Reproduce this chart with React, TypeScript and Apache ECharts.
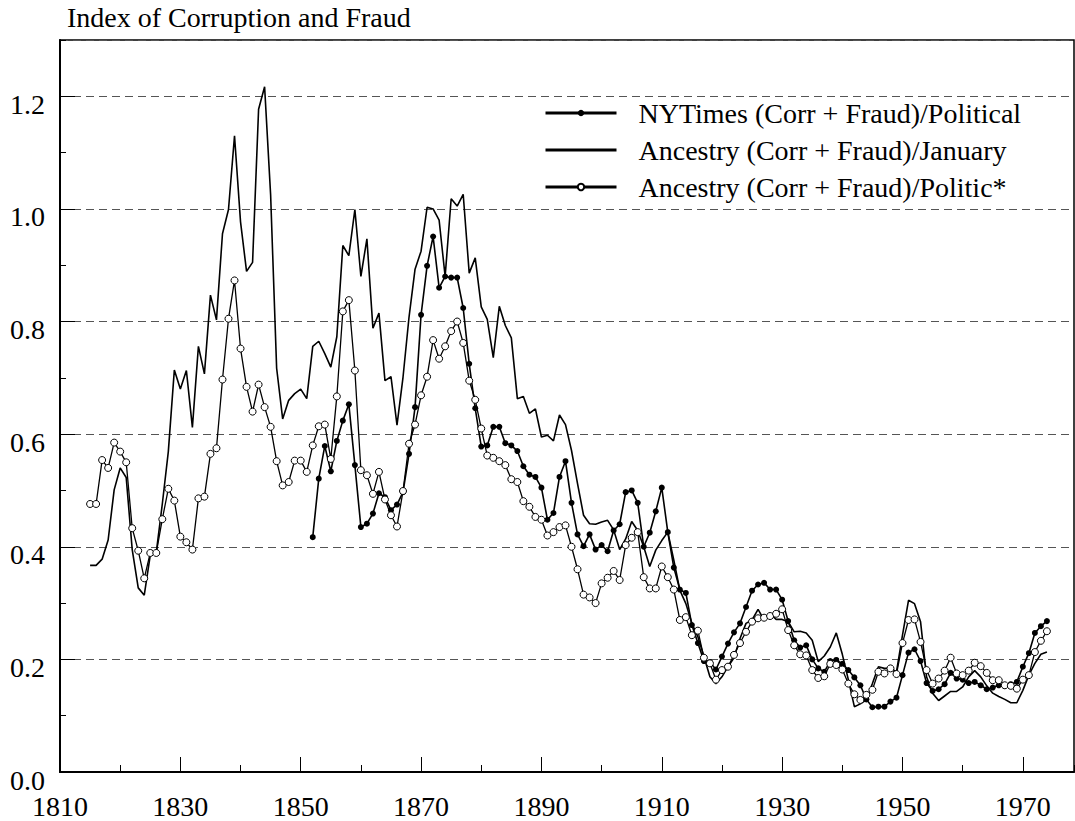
import React, { useEffect, useRef } from "react";
import * as echarts from "echarts";

const firstYear = 1815;
const nytFirstYear = 1852;

const janValues = [
  0.367, 0.367, 0.378, 0.412, 0.501, 0.540, 0.523, 0.395, 0.327, 0.314,
  0.385, 0.390, 0.476, 0.569, 0.714, 0.680, 0.713, 0.612, 0.756, 0.707,
  0.847, 0.803, 0.956, 0.999, 1.130, 0.977, 0.889, 0.905, 1.177, 1.217,
  1.025, 0.717, 0.627, 0.660, 0.672, 0.680, 0.663, 0.756, 0.765, 0.743,
  0.719, 0.773, 0.935, 0.917, 0.999, 0.880, 0.947, 0.788, 0.815, 0.695,
  0.702, 0.616, 0.701, 0.808, 0.893, 0.925, 1.003, 1.000, 0.980, 0.880,
  1.018, 1.005, 1.026, 0.886, 0.913, 0.826, 0.804, 0.736, 0.827, 0.793,
  0.771, 0.663, 0.667, 0.637, 0.645, 0.595, 0.598, 0.588, 0.634, 0.617,
  0.571, 0.512, 0.456, 0.441, 0.440, 0.444, 0.447, 0.430, 0.395, 0.414,
  0.445, 0.429, 0.400, 0.365, 0.394, 0.411, 0.426, 0.376, 0.323, 0.299,
  0.264, 0.240, 0.205, 0.169, 0.157, 0.169, 0.187, 0.203, 0.237, 0.264,
  0.270, 0.289, 0.270, 0.281, 0.271, 0.271, 0.267, 0.249, 0.250, 0.247,
  0.234, 0.196, 0.206, 0.222, 0.247, 0.209, 0.164, 0.116, 0.121, 0.128,
  0.157, 0.187, 0.184, 0.184, 0.178, 0.243, 0.305, 0.299, 0.267, 0.169,
  0.140, 0.127, 0.135, 0.143, 0.143, 0.151, 0.169, 0.180, 0.169, 0.153,
  0.140, 0.134, 0.129, 0.123, 0.123, 0.145, 0.172, 0.193, 0.209, 0.213,
];

const politicValues = [
  0.476, 0.476, 0.554, 0.540, 0.585, 0.569, 0.550, 0.433, 0.393, 0.344,
  0.389, 0.389, 0.449, 0.503, 0.482, 0.418, 0.408, 0.395, 0.486, 0.489,
  0.565, 0.575, 0.697, 0.805, 0.873, 0.752, 0.684, 0.640, 0.688, 0.648,
  0.613, 0.552, 0.509, 0.515, 0.553, 0.553, 0.533, 0.580, 0.614, 0.617,
  0.556, 0.667, 0.818, 0.838, 0.713, 0.536, 0.527, 0.494, 0.533, 0.484,
  0.456, 0.436, 0.499, 0.583, 0.617, 0.669, 0.702, 0.767, 0.734, 0.756,
  0.783, 0.800, 0.762, 0.695, 0.661, 0.610, 0.562, 0.558, 0.552, 0.545,
  0.520, 0.515, 0.481, 0.471, 0.453, 0.448, 0.420, 0.426, 0.435, 0.438,
  0.400, 0.360, 0.315, 0.310, 0.300, 0.335, 0.345, 0.357, 0.341, 0.403,
  0.416, 0.426, 0.346, 0.326, 0.326, 0.365, 0.346, 0.324, 0.270, 0.275,
  0.243, 0.251, 0.203, 0.193, 0.164, 0.181, 0.187, 0.208, 0.229, 0.249,
  0.267, 0.273, 0.274, 0.277, 0.281, 0.289, 0.252, 0.225, 0.209, 0.207,
  0.181, 0.167, 0.170, 0.192, 0.190, 0.182, 0.157, 0.138, 0.128, 0.137,
  0.146, 0.178, 0.175, 0.184, 0.174, 0.229, 0.270, 0.271, 0.231, 0.181,
  0.157, 0.166, 0.180, 0.203, 0.175, 0.172, 0.180, 0.194, 0.188, 0.176,
  0.163, 0.163, 0.154, 0.153, 0.148, 0.164, 0.172, 0.213, 0.233, 0.250,
];

const nytValues = [
  0.417, 0.521, 0.579, 0.534, 0.588, 0.624, 0.653, 0.545,
  0.435, 0.441, 0.459, 0.495, 0.488, 0.465, 0.475, 0.497, 0.565, 0.648,
  0.812, 0.899, 0.951, 0.860, 0.880, 0.878, 0.878, 0.824, 0.725, 0.646,
  0.578, 0.580, 0.613, 0.613, 0.584, 0.580, 0.570, 0.543, 0.528, 0.524,
  0.505, 0.448, 0.460, 0.524, 0.552, 0.478, 0.422, 0.401, 0.422, 0.395,
  0.403, 0.392, 0.429, 0.440, 0.497, 0.500, 0.478, 0.400, 0.425, 0.463,
  0.505, 0.426, 0.363, 0.324, 0.318, 0.261, 0.229, 0.197, 0.195, 0.182,
  0.205, 0.228, 0.248, 0.264, 0.293, 0.322, 0.333, 0.336, 0.324, 0.324,
  0.306, 0.268, 0.234, 0.221, 0.225, 0.200, 0.184, 0.178, 0.197, 0.199,
  0.192, 0.181, 0.168, 0.154, 0.129, 0.115, 0.116, 0.116, 0.125, 0.132,
  0.172, 0.212, 0.218, 0.197, 0.158, 0.144, 0.147, 0.156, 0.176, 0.166,
  0.164, 0.158, 0.160, 0.154, 0.147, 0.150, 0.154, 0.153, 0.156, 0.160,
  0.187, 0.211, 0.247, 0.259, 0.268,
];

const seriesNames = [
  "NYTimes (Corr + Fraud)/Political",
  "Ancestry (Corr + Fraud)/January",
  "Ancestry (Corr + Fraud)/Politic*",
];
const titleText = "Index of Corruption and Fraud";

const FONT = "Liberation Serif";

export default function App() {
  const ref = useRef<HTMLDivElement>(null);
  useEffect(() => {
    document.body.style.margin = "0";
    const chart = echarts.init(ref.current as HTMLDivElement, null, { renderer: "svg" });
    const pairs = (start: number, vals: number[]) => vals.map((v, i) => [start + i, v]);
    const xMin = 1810;
    const xMax = 1978.5;
    const labelStyle = { fontFamily: FONT, fontSize: 28, color: "#000" };
    chart.setOption({
      animation: false,
      backgroundColor: "#fff",
      textStyle: { fontFamily: FONT },
      title: {
        text: titleText,
        left: 67,
        top: 3,
        padding: 0,
        textStyle: { fontFamily: FONT, fontSize: 28, fontWeight: "normal", color: "#000" },
      },
      legend: {
        orient: "vertical",
        left: 544,
        top: 99,
        padding: 0,
        itemWidth: 71,
        itemHeight: 8,
        itemGap: 9,
        data: [
          { name: seriesNames[0] },
          { name: seriesNames[1], itemStyle: { opacity: 0 } },
          { name: seriesNames[2] },
        ],
        lineStyle: { width: 3 },
        textStyle: { ...labelStyle, lineHeight: 28, padding: [0, 0, 0, 17] },
      },
      grid: {
        left: 60,
        top: 40,
        right: 1,
        bottom: 49,
        show: true,
        borderColor: "#000",
        borderWidth: 1.5,
      },
      xAxis: [
        {
          type: "value",
          min: xMin,
          max: xMax,
          interval: 20,
          axisLine: { lineStyle: { color: "#000", width: 2 } },
          axisTick: { inside: true, length: 15, lineStyle: { color: "#000", width: 1 } },
          splitLine: { show: false },
          axisLabel: {
            ...labelStyle,
            margin: 20,
            showMaxLabel: false,
            showMinLabel: true,
            formatter: (v: number) => String(Math.round(v)),
          },
        },
        {
          type: "value",
          position: "bottom",
          min: xMin,
          max: xMax,
          interval: 10,
          axisLine: { show: false },
          axisTick: { inside: true, length: 7, lineStyle: { color: "#000", width: 1 } },
          splitLine: { show: false },
          axisLabel: { show: false },
        },
      ],
      yAxis: [
        {
          type: "value",
          min: 0,
          max: 1.3,
          interval: 0.2,
          axisLine: { show: true, lineStyle: { color: "#000", width: 2 } },
          axisTick: { show: true, inside: true, length: 15, lineStyle: { color: "#000", width: 1 } },
          splitLine: { show: true, lineStyle: { color: "#555", width: 1, type: [8, 5] } },
          axisLabel: {
            ...labelStyle,
            margin: 15,
            verticalAlign: "top",
            lineHeight: 16,
            showMaxLabel: false,
            formatter: (v: number) => v.toFixed(1),
          },
        },
        {
          type: "value",
          position: "left",
          min: 0,
          max: 1.3,
          interval: 0.1,
          axisLine: { show: false },
          axisTick: { show: true, inside: true, length: 6, lineStyle: { color: "#000", width: 1 } },
          splitLine: { show: false },
          axisLabel: { show: false },
        },
      ],
      series: [
        {
          name: seriesNames[1],
          type: "line",
          data: pairs(firstYear, janValues),
          symbol: "none",
          lineStyle: { color: "#000", width: 1.6 },
          itemStyle: { color: "#000" },
          z: 2,
        },
        {
          name: seriesNames[0],
          type: "line",
          data: pairs(nytFirstYear, nytValues),
          symbol: "circle",
          symbolSize: 6,
          lineStyle: { color: "#000", width: 1.6 },
          itemStyle: { color: "#000" },
          z: 3,
        },
        {
          name: seriesNames[2],
          type: "line",
          data: pairs(firstYear, politicValues),
          symbol: "circle",
          symbolSize: 7,
          lineStyle: { color: "#000", width: 1.3 },
          itemStyle: { color: "#fff", borderColor: "#000", borderWidth: 1 },
          z: 4,
        },
      ],
    });
    return () => chart.dispose();
  }, []);
  return <div ref={ref} style={{ width: 1075, height: 821 }} />;
}
